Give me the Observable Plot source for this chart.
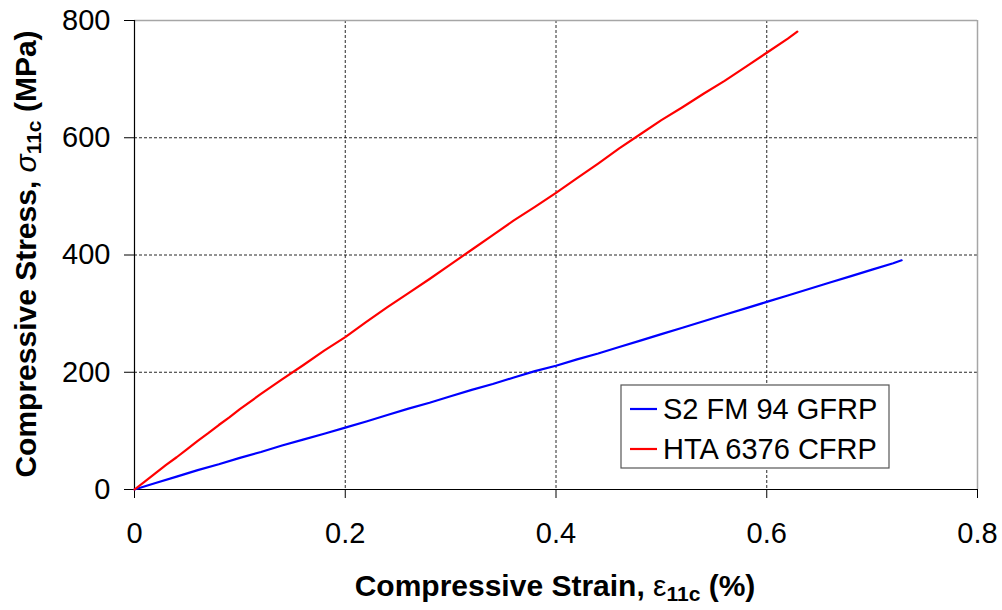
<!DOCTYPE html>
<html>
<head>
<meta charset="utf-8">
<script src="https://cdn.jsdelivr.net/npm/d3@7"></script>
<script src="https://cdn.jsdelivr.net/npm/@observablehq/plot@0.6"></script>
<style>
  html, body { margin: 0; padding: 0; background: #fff; }
  #chart { width: 1002px; height: 610px; }
</style>
</head>
<body>
<div id="chart"></div>
<script>
// Compressive stress-strain response of two composite laminates
const seriesNames = ["S2 FM 94 GFRP", "HTA 6376 CFRP"];
const seriesColors = ["#0000ff", "#ff0000"];

// S2 FM 94 GFRP: strain (%) and stress (MPa)
const gfrpStrain = [0, 0.02, 0.04, 0.06, 0.08, 0.10, 0.12, 0.14, 0.16, 0.18, 0.20, 0.22, 0.24, 0.26, 0.28, 0.30, 0.32, 0.34, 0.36, 0.38, 0.40, 0.42, 0.44, 0.46, 0.48, 0.50, 0.52, 0.54, 0.56, 0.58, 0.60, 0.62, 0.64, 0.66, 0.68, 0.70, 0.72, 0.728];
const gfrpStress = [0, 11, 22, 33, 43, 54, 64, 75, 85, 95, 105.5, 116, 127, 138, 148, 159, 170, 180, 191, 202, 211, 222, 232, 243, 254, 265, 276, 287, 298, 309, 320, 331, 342, 353, 364, 375, 386, 391];

// HTA 6376 CFRP: strain (%) and stress (MPa)
const cfrpStrain = [0, 0.01, 0.02, 0.03, 0.04, 0.05, 0.06, 0.07, 0.08, 0.09, 0.10, 0.12, 0.14, 0.16, 0.18, 0.20, 0.22, 0.24, 0.26, 0.28, 0.30, 0.32, 0.34, 0.36, 0.38, 0.40, 0.42, 0.44, 0.46, 0.48, 0.50, 0.52, 0.54, 0.56, 0.58, 0.60, 0.62, 0.629];
const cfrpStress = [0, 14, 28, 42, 55, 69, 83, 96, 110, 123, 137, 163, 188, 212, 237, 260, 286, 311, 335, 359, 384, 409, 434, 459, 482, 506, 531, 556, 582, 606, 630, 652, 675, 697, 721, 745, 769, 781];

// Axis ticks
const xTicks = [0, 0.2, 0.4, 0.6, 0.8];
const yTicks = [0, 200, 400, 600, 800];
const xGrid = [0.2, 0.4, 0.6];
const yGrid = [200, 400, 600];

const rows = [
  ...gfrpStrain.map((s, i) => ({series: seriesNames[0], strain: s, stress: gfrpStress[i]})),
  ...cfrpStrain.map((s, i) => ({series: seriesNames[1], strain: s, stress: cfrpStress[i]}))
];

const FONT = "'Liberation Sans', Arial, sans-serif";
const gridStyle = {stroke: "#000", strokeOpacity: 0.85, strokeDasharray: "3,2", strokeWidth: 1};

const svg = Plot.plot({
  width: 1002,
  height: 610,
  marginLeft: 134,
  marginRight: 25,
  marginTop: 20,
  marginBottom: 121,
  style: {fontFamily: FONT, fontSize: "29px", color: "#000", background: "#fff", overflow: "visible"},
  x: {domain: [0, 0.8], ticks: xTicks, label: null},
  y: {domain: [0, 800], ticks: yTicks, label: null},
  color: {domain: seriesNames, range: seriesColors},
  marks: [
    Plot.gridX(xGrid, gridStyle),
    Plot.gridY(yGrid, gridStyle),
    Plot.ruleY([800], {stroke: "#a6a6a6", strokeWidth: 1.5}),
    Plot.ruleX([0.8], {stroke: "#a6a6a6", strokeWidth: 1.5}),
    Plot.axisX({ticks: xTicks, tickSize: 9, tickPadding: 24, fontSize: 29, stroke: "#000", strokeOpacity: 1,
      tickFormat: d => d === 0 ? "0" : d3.format(".1f")(d), label: null}),
    Plot.axisY({ticks: yTicks, tickSize: 10, tickPadding: 14, fontSize: 29, stroke: "#000", strokeOpacity: 1,
      tickFormat: d3.format("d"), label: null}),
    Plot.ruleX([0], {stroke: "#000", strokeWidth: 1.2}),
    Plot.ruleY([0], {stroke: "#000", strokeWidth: 1.2}),
    Plot.line(rows, {x: "strain", y: "stress", z: "series", stroke: "series", strokeWidth: 2.2})
  ]
});

document.getElementById("chart").appendChild(svg);

const root = d3.select(svg);

// Axis titles with Greek symbols and subscripts
function addTitle(g, pre, sym, symItalic, sub, post) {
  g.append("tspan").attr("font-weight", "bold").text(pre);
  g.append("tspan").attr("font-weight", "normal").attr("font-style", symItalic ? "italic" : "normal").text(sym);
  g.append("tspan").attr("font-weight", "bold").attr("font-size", "21px").attr("dy", "5").text(sub);
  g.append("tspan").attr("font-weight", "bold").attr("dy", "-5").text(post);
}

const xTitle = root.append("text")
  .attr("x", 555).attr("y", 596)
  .attr("text-anchor", "middle")
  .attr("font-family", FONT).attr("font-size", "30px").attr("fill", "#000");
addTitle(xTitle, "Compressive Strain, ", "ε", false, "11c", " (%)");

const yTitle = root.append("text")
  .attr("transform", "translate(36,254) rotate(-90)")
  .attr("text-anchor", "middle")
  .attr("font-family", FONT).attr("font-size", "30px").attr("fill", "#000");
addTitle(yTitle, "Compressive Stress, ", "σ", true, "11c", " (MPa)");

// Legend box
const lg = root.append("g").attr("font-family", FONT).attr("font-size", "29px").attr("text-anchor", "start");
lg.append("rect").attr("x", 621).attr("y", 385).attr("width", 268).attr("height", 83)
  .attr("fill", "#fff").attr("stroke", "#555").attr("stroke-width", 1.2);
seriesNames.forEach((name, i) => {
  const cy = 409 + i * 40;
  lg.append("line").attr("x1", 630).attr("x2", 657).attr("y1", cy).attr("y2", cy)
    .attr("stroke", seriesColors[i]).attr("stroke-width", 2.2);
  lg.append("text").attr("x", 663).attr("y", cy + 10).attr("fill", "#000")
    .attr("text-anchor", "start").text(name);
});
</script>
</body>
</html>
